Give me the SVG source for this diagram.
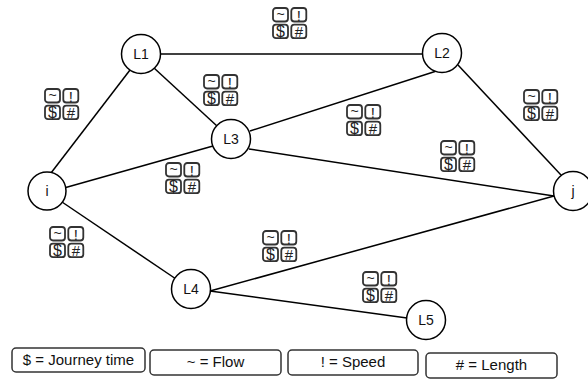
<svg xmlns="http://www.w3.org/2000/svg" xmlns:xlink="http://www.w3.org/1999/xlink" width="588" height="382" viewBox="0 0 588 382">
  <style>
    .edge { stroke: #000; stroke-width: 1.5; fill: none; }
    .node circle { fill: #fff; stroke: #000; stroke-width: 1.5; }
    .node text { font-family: "Liberation Sans", Arial, sans-serif; font-size: 14px; fill: #111; text-anchor: middle; }
    .key rect { fill: #fff; stroke: #333; stroke-width: 1.5; rx: 4; }
    .key text { font-family: "Liberation Sans", Arial, sans-serif; font-size: 15px; fill: #111; text-anchor: middle; }
    .cell { fill: #fff; stroke: #333; stroke-width: 1.8; }
    .sym { font-family: "Liberation Sans", Arial, sans-serif; fill: #222; text-anchor: middle; }
  </style>
  <defs>
    <!-- 2x2 attribute badge: flow, speed, journey time, length -->
    <g id="badge">
      <rect class="cell" x="0" y="0" width="15" height="13.5" rx="3"/>
      <rect class="cell" x="18.3" y="0" width="15" height="13.5" rx="3"/>
      <rect class="cell" x="0" y="16.7" width="15" height="13.5" rx="3"/>
      <rect class="cell" x="18.3" y="16.7" width="15" height="13.5" rx="3"/>
      <text class="sym" x="7.5" y="10.5" font-size="14">~</text>
      <text class="sym" x="25.8" y="12.5" font-size="15">!</text>
      <text class="sym" x="7.5" y="29" font-size="16">$</text>
      <text class="sym" x="25.8" y="29" font-size="15">#</text>
    </g>
  </defs>
  <rect width="588" height="382" fill="#fff"/>

  <g id="connectors">
    <line class="edge" x1="51" y1="173" x2="130" y2="70"/>
    <line class="edge" x1="64" y1="188" x2="213" y2="146"/>
    <line class="edge" x1="62" y1="202" x2="176" y2="279"/>
    <line class="edge" x1="160.5" y1="54" x2="422.5" y2="54"/>
    <line class="edge" x1="154" y1="68" x2="217" y2="126"/>
    <line class="edge" x1="250" y1="131" x2="435" y2="71.5"/>
    <line class="edge" x1="249" y1="149" x2="554" y2="196"/>
    <line class="edge" x1="458" y1="65" x2="561" y2="175"/>
    <line class="edge" x1="210" y1="291" x2="554" y2="196"/>
    <line class="edge" x1="210" y1="291" x2="407" y2="318"/>
  </g>

  <g id="badges">
    <use xlink:href="#badge" x="273" y="8"/>
    <use xlink:href="#badge" x="45" y="89"/>
    <use xlink:href="#badge" x="204" y="75"/>
    <use xlink:href="#badge" x="347" y="105"/>
    <use xlink:href="#badge" x="524" y="90"/>
    <use xlink:href="#badge" x="441" y="141"/>
    <use xlink:href="#badge" x="166" y="163"/>
    <use xlink:href="#badge" x="50" y="227"/>
    <use xlink:href="#badge" x="263" y="231"/>
    <use xlink:href="#badge" x="363" y="272"/>
  </g>

  <g id="node-L1" class="node"><circle cx="141" cy="54" r="19.5"/><text x="141" y="59">L1</text></g>
  <g id="node-L2" class="node"><circle cx="442" cy="53" r="19.5"/><text x="442" y="58">L2</text></g>
  <g id="node-L3" class="node"><circle cx="231" cy="139" r="19.5"/><text x="231" y="144">L3</text></g>
  <g id="node-i" class="node"><circle cx="47" cy="191" r="19"/><text x="47" y="196">i</text></g>
  <g id="node-j" class="node"><circle cx="573" cy="191" r="19.5"/><text x="573" y="196">j</text></g>
  <g id="node-L4" class="node"><circle cx="191" cy="289" r="19.5"/><text x="191" y="294">L4</text></g>
  <g id="node-L5" class="node"><circle cx="426" cy="320" r="19.5"/><text x="426" y="325">L5</text></g>

  <g id="legend">
    <g class="key" id="key-time"><rect x="12" y="348" width="133" height="24"/><text x="78.5" y="365">$ = Journey time</text></g>
    <g class="key" id="key-flow"><rect x="150" y="350" width="131" height="25"/><text x="215.5" y="367">~ = Flow</text></g>
    <g class="key" id="key-speed"><rect x="288" y="350" width="130" height="25"/><text x="353" y="367">! = Speed</text></g>
    <g class="key" id="key-length"><rect x="426" y="353" width="131" height="25"/><text x="491.5" y="370"># = Length</text></g>
  </g>
</svg>
